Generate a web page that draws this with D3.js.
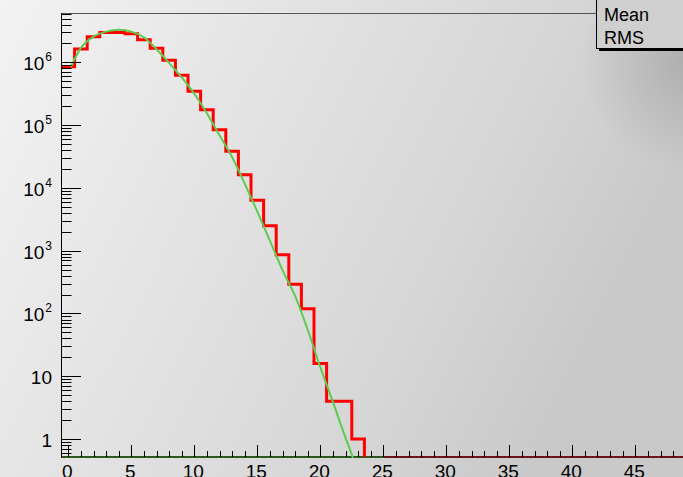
<!DOCTYPE html>
<html>
<head>
<meta charset="utf-8">
<script src="https://cdn.jsdelivr.net/npm/d3@7"></script>
<style>
  html, body { margin: 0; padding: 0; background: #e6e6e6; }
  svg { display: block; }
  text { font-family: "Liberation Sans", Arial, Helvetica, sans-serif; fill: #000; }
</style>
</head>
<body>
<svg id="chart" width="683" height="477"></svg>
<script>
// Histogram bin contents, one bin per integer (bins centred on 0, 1, 2, ...)
const binCounts = [
  850000, 1630000, 2550000, 3000000, 3000000, 2850000, 2300000, 1680000,
  1080000, 625000, 348000, 176000, 84700, 38500, 16200, 6370,
  2500, 863, 292, 119, 16, 4, 4, 1,
  0, 0, 0, 0, 0, 0, 0, 0, 0, 0, 0, 0, 0,
  0, 0, 0, 0, 0, 0, 0, 0, 0, 0, 0, 0, 0
];
const binWidth = 1;
const xRange = [-0.5, 49.5];

// Fitted function, sampled along x
const fitX = [0.2, 1, 2, 3, 4, 5, 6, 7, 8, 9, 10, 11, 12, 13, 14, 15, 16, 17, 18, 19, 20, 21, 22, 22.6];
const fitY = [850000, 1700000, 2570000, 3090000, 3310000, 3090000, 2510000, 1620000, 980000, 575000,
              316000, 155000, 69000, 31000, 11700, 4200, 1450, 490, 190, 55, 14, 3.9, 1.05, 0.5];
const fitRangeEnd = 25;

// Axis ticks and labels
const xMajorTicks = [0, 5, 10, 15, 20, 25, 30, 35, 40, 45];
const xTickLabels = ["0", "5", "10", "15", "20", "25", "30", "35", "40", "45"];
const yDecades = [1, 10, 1e2, 1e3, 1e4, 1e5, 1e6];
const yTickLabels = [["1", ""], ["10", ""], ["10", "2"], ["10", "3"], ["10", "4"], ["10", "5"], ["10", "6"]];
const yRange = [0.517, 6.12e6];

// Stats box entries
const statsLabels = ["Mean", "RMS"];

(function draw() {
  const svg = d3.select("#chart");
  const W = 683, H = 477;
  const pLeft = 62, pRight = 692, pTop = 13, pBottom = 457;

  const defs = svg.append("defs");
  const bg = defs.append("linearGradient").attr("id", "bg").attr("x1", 0).attr("y1", 0).attr("x2", 1).attr("y2", 0.35);
  bg.append("stop").attr("offset", "0%").attr("stop-color", "#f3f3f3");
  bg.append("stop").attr("offset", "35%").attr("stop-color", "#e5e5e5");
  bg.append("stop").attr("offset", "75%").attr("stop-color", "#d6d6d6");
  bg.append("stop").attr("offset", "100%").attr("stop-color", "#c9c9c9");
  const spot = defs.append("radialGradient").attr("id", "spot")
    .attr("gradientUnits", "userSpaceOnUse").attr("cx", 690).attr("cy", 60).attr("r", 110);
  spot.append("stop").attr("offset", "0%").attr("stop-color", "#999").attr("stop-opacity", 0.6);
  spot.append("stop").attr("offset", "100%").attr("stop-color", "#999").attr("stop-opacity", 0);
  defs.append("clipPath").attr("id", "plotClip")
    .append("rect").attr("x", pLeft).attr("y", pTop).attr("width", pRight - pLeft).attr("height", pBottom - pTop + 1);

  svg.append("rect").attr("width", W).attr("height", H).attr("fill", "url(#bg)");
  svg.append("rect").attr("width", W).attr("height", H).attr("fill", "url(#spot)");

  const x = d3.scaleLinear().domain(xRange).range([pLeft, pRight]);
  const y = d3.scaleLog().domain(yRange).range([pBottom, pTop]);
  const yc = v => y(Math.max(v, yRange[0]));

  const plot = svg.append("g").attr("clip-path", "url(#plotClip)");

  // Bottom edge: fit range in green, remaining histogram range in red
  plot.append("line").attr("x1", x(xRange[0])).attr("x2", x(fitRangeEnd))
    .attr("y1", pBottom).attr("y2", pBottom).attr("stroke", "#2c5a1e").attr("stroke-width", 2);
  plot.append("line").attr("x1", x(fitRangeEnd)).attr("x2", x(xRange[1]))
    .attr("y1", pBottom).attr("y2", pBottom).attr("stroke", "#6e1414").attr("stroke-width", 2);

  // Histogram as a step outline, down to the first empty bin
  const lastFilled = binCounts.reduce((m, c, i) => (c > 0 ? i : m), 0);
  const histPts = binCounts.slice(0, lastFilled + 1).map((c, i) => [xRange[0] + i * binWidth, c]);
  histPts.push([xRange[0] + (lastFilled + 1) * binWidth, 0]);
  const stepLine = d3.line().x(d => x(d[0])).y(d => yc(d[1])).curve(d3.curveStepAfter);
  plot.append("path").attr("d", stepLine(histPts))
    .attr("fill", "none").attr("stroke", "#ff0000").attr("stroke-width", 3).attr("stroke-linejoin", "miter");

  // Fit curve
  const fitLine = d3.line().x(d => x(d[0])).y(d => y(d[1])).curve(d3.curveMonotoneX);
  plot.append("path").attr("d", fitLine(fitX.map((v, i) => [v, fitY[i]])))
    .attr("fill", "none").attr("stroke", "#5ecb4e").attr("stroke-width", 2);

  // Frame: top edge and left axis
  svg.append("line").attr("x1", pLeft).attr("x2", W).attr("y1", pTop + 0.5).attr("y2", pTop + 0.5)
    .attr("stroke", "#555").attr("stroke-width", 1);
  svg.append("line").attr("x1", pLeft - 0.5).attr("x2", pLeft - 0.5).attr("y1", pTop).attr("y2", pBottom + 1)
    .attr("stroke", "#000").attr("stroke-width", 1);

  // Y axis ticks (drawn inward)
  const yMinor = [];
  for (let e = -1; e <= 6; e++) {
    for (let k = 2; k <= 9; k++) {
      const v = k * Math.pow(10, e);
      if (v >= yRange[0] && v <= yRange[1]) yMinor.push(v);
    }
  }
  const yAx = svg.append("g");
  yAx.selectAll(".ymin").data(yMinor).join("line")
    .attr("x1", pLeft).attr("x2", pLeft + 9.5)
    .attr("y1", d => Math.round(y(d)) + 0.5).attr("y2", d => Math.round(y(d)) + 0.5)
    .attr("stroke", "#000").attr("stroke-width", 1);
  yAx.selectAll(".ymaj").data(yDecades).join("line")
    .attr("x1", pLeft).attr("x2", pLeft + 19)
    .attr("y1", d => Math.round(y(d)) + 0.5).attr("y2", d => Math.round(y(d)) + 0.5)
    .attr("stroke", "#000").attr("stroke-width", 1);
  const yLab = yAx.selectAll(".ylab").data(yDecades).join("text")
    .attr("x", 52).attr("y", d => y(d) + 8)
    .attr("text-anchor", "end").attr("font-size", 19);
  yLab.each(function(d, i) {
    const t = d3.select(this);
    const [base, sup] = yTickLabels[i];
    t.append("tspan").text(base);
    if (sup) t.append("tspan").attr("dy", -9).attr("dx", 1).attr("font-size", 12).text(sup);
  });

  // X axis ticks (drawn upward from the bottom edge)
  const xMinor = d3.range(0, 50).filter(v => v % 5 !== 0);
  const xAx = svg.append("g");
  xAx.selectAll(".xmin").data(xMinor).join("line")
    .attr("x1", d => Math.round(x(d)) + 0.5).attr("x2", d => Math.round(x(d)) + 0.5)
    .attr("y1", pBottom).attr("y2", pBottom - 6)
    .attr("stroke", "#000").attr("stroke-width", 1);
  xAx.selectAll(".xmaj").data(xMajorTicks).join("line")
    .attr("x1", d => Math.round(x(d)) + 0.5).attr("x2", d => Math.round(x(d)) + 0.5)
    .attr("y1", pBottom).attr("y2", pBottom - 12)
    .attr("stroke", "#000").attr("stroke-width", 1);
  xAx.selectAll(".xlab").data(xMajorTicks).join("text")
    .attr("x", d => x(d) - 1).attr("y", 478)
    .attr("text-anchor", "middle").attr("font-size", 19)
    .text((d, i) => xTickLabels[i]);

  // Stats box
  const box = svg.append("g");
  box.append("rect").attr("x", 599).attr("y", 48).attr("width", 120).attr("height", 3).attr("fill", "#000");
  box.append("rect").attr("x", 596.5).attr("y", -20).attr("width", 120).attr("height", 68.5)
    .attr("fill", "#cfcfcf").attr("stroke", "#000").attr("stroke-width", 1);
  box.selectAll(".st").data(statsLabels).join("text")
    .attr("x", 604).attr("y", (d, i) => 21 + i * 23)
    .attr("font-size", 18).text(d => d);
})();
</script>
</body>
</html>
